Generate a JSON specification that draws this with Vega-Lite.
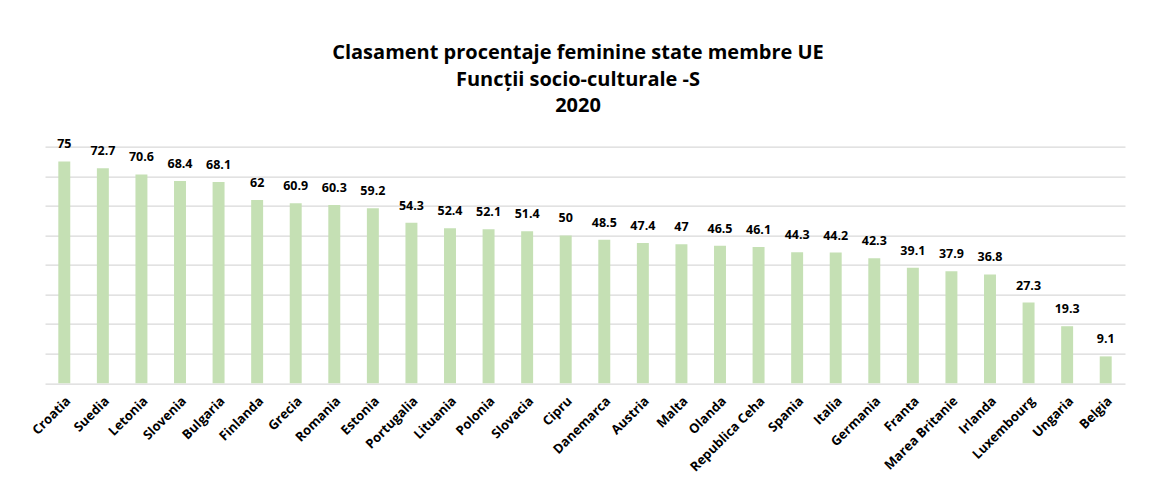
{
  "$schema": "https://vega.github.io/schema/vega-lite/v6.json",
  "width": 1080,
  "height": 236.6,
  "autosize": {"type": "none"},
  "padding": {"left": 45, "top": 146.7, "right": 36, "bottom": 106},
  "background": "white",
  "title": {
    "text": ["Clasament procentaje feminine state membre UE", "Funcții socio-culturale -S", "2020"],
    "font": "Open Sans",
    "fontSize": 20,
    "fontWeight": "bold",
    "color": "#000000",
    "lineHeight": 26.5,
    "anchor": "middle",
    "dx": -7,
    "offset": 22
  },
  "data": {
    "values": [
      {"tara": "Croatia", "procent": 75},
      {"tara": "Suedia", "procent": 72.7},
      {"tara": "Letonia", "procent": 70.6},
      {"tara": "Slovenia", "procent": 68.4},
      {"tara": "Bulgaria", "procent": 68.1},
      {"tara": "Finlanda", "procent": 62},
      {"tara": "Grecia", "procent": 60.9},
      {"tara": "Romania", "procent": 60.3},
      {"tara": "Estonia", "procent": 59.2},
      {"tara": "Portugalia", "procent": 54.3},
      {"tara": "Lituania", "procent": 52.4},
      {"tara": "Polonia", "procent": 52.1},
      {"tara": "Slovacia", "procent": 51.4},
      {"tara": "Cipru", "procent": 50},
      {"tara": "Danemarca", "procent": 48.5},
      {"tara": "Austria", "procent": 47.4},
      {"tara": "Malta", "procent": 47},
      {"tara": "Olanda", "procent": 46.5},
      {"tara": "Republica Ceha", "procent": 46.1},
      {"tara": "Spania", "procent": 44.3},
      {"tara": "Italia", "procent": 44.2},
      {"tara": "Germania", "procent": 42.3},
      {"tara": "Franta", "procent": 39.1},
      {"tara": "Marea Britanie", "procent": 37.9},
      {"tara": "Irlanda", "procent": 36.8},
      {"tara": "Luxembourg", "procent": 27.3},
      {"tara": "Ungaria", "procent": 19.3},
      {"tara": "Belgia", "procent": 9.1}
    ]
  },
  "encoding": {
    "x": {
      "field": "tara",
      "type": "nominal",
      "sort": null,
      "scale": {"paddingInner": 0.69, "paddingOuter": 0.345},
      "axis": {
        "title": null,
        "labelAngle": -45,
        "labelFont": "Open Sans",
        "labelFontSize": 13,
        "labelFontWeight": "bold",
        "labelColor": "#000000",
        "labelPadding": 11,
        "domain": false,
        "ticks": false,
        "grid": false
      }
    },
    "y": {
      "field": "procent",
      "type": "quantitative",
      "scale": {"domain": [0, 80], "nice": false},
      "axis": {
        "title": null,
        "labels": false,
        "ticks": false,
        "domain": false,
        "values": [0, 10, 20, 30, 40, 50, 60, 70, 80],
        "grid": true,
        "gridColor": "#D9D9D9",
        "gridWidth": 1.3
      }
    }
  },
  "layer": [
    {"mark": {"type": "bar", "color": "#C5E0B4"}},
    {
      "mark": {"type": "text", "dy": -13, "baseline": "alphabetic", "font": "Open Sans", "fontSize": 12.5, "fontWeight": "bold", "color": "#000000"},
      "encoding": {"text": {"field": "procent", "type": "quantitative"}}
    }
  ],
  "config": {"view": {"stroke": null}}
}
